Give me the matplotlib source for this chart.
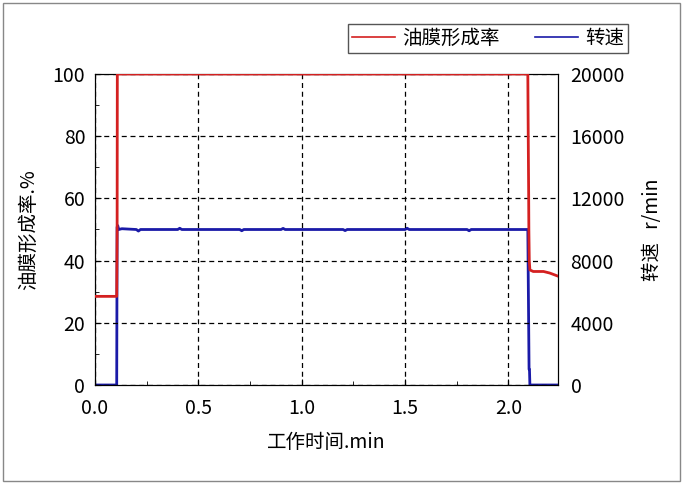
import numpy as np
import matplotlib.pyplot as plt
from matplotlib.patches import Rectangle
from matplotlib.lines import Line2D
from matplotlib.ticker import MultipleLocator

plt.rcParams['font.family'] = ['Noto Sans CJK SC', 'DejaVu Sans']

# 油膜形成率 (%)
t_film = [0.0, 0.105, 0.107, 0.108, 2.094, 2.096, 2.098, 2.099, 2.101, 2.104,
          2.12, 2.17, 2.20, 2.22, 2.24]
film = [28.5, 28.5, 50, 100, 100, 80, 62, 50, 40, 37, 36.5, 36.5, 36, 35.5, 35]

# 转速 (r/min)
t_speed = [0.0, 0.105, 0.107, 0.11, 0.115, 0.13, 0.2, 0.21, 0.22, 0.4, 0.41,
           0.42, 0.7, 0.71, 0.72, 0.9, 0.91, 0.92, 1.2, 1.21, 1.22, 1.5,
           1.51, 1.52, 1.8, 1.81, 1.82, 2.094, 2.096, 2.10, 2.102, 2.104, 2.24]
speed = [0, 0, 10150, 10250, 10000, 10050, 10000, 9900, 10000, 10000, 10080,
         10000, 10000, 9920, 10000, 10000, 10070, 10000, 10000, 9930, 10000,
         10000, 10080, 10000, 10000, 9920, 10000, 10000, 7000, 1000, 1000, 0, 0]

fig = plt.figure(figsize=(6.83, 4.84), dpi=100)
ax = fig.add_axes([95 / 683, 1 - 385 / 484, 463 / 683, 311 / 484])
ax2 = ax.twinx()

ax.plot(t_film, film, color='#d42020', lw=2, zorder=3)
ax2.plot(t_speed, speed, color='#1a1aa8', lw=2)

ax.set_xlim(0, 2.24)
ax.set_ylim(0, 100)
ax2.set_ylim(0, 20000)
ax.xaxis.set_major_locator(MultipleLocator(0.5))
ax.xaxis.set_minor_locator(MultipleLocator(0.25))
ax.yaxis.set_major_locator(MultipleLocator(20))
ax.yaxis.set_minor_locator(MultipleLocator(10))
ax2.yaxis.set_major_locator(MultipleLocator(4000))
ax.xaxis.set_major_formatter(plt.FormatStrFormatter('%.1f'))

ax.grid(True, which='major', color='black', linestyle=(0, (4, 3)), lw=0.9)
ax.tick_params(which='both', direction='in', labelsize=14, top=False)
ax.tick_params(axis='x', pad=9)
ax.tick_params(axis='y', pad=7)
ax.tick_params(which='major', length=4)
ax.tick_params(which='minor', length=3)
ax2.tick_params(direction='in', labelsize=14, length=0, pad=9)

ax.set_xlabel('工作时间.min', fontsize=14, labelpad=10)
ax.set_ylabel('油膜形成率.%', fontsize=14, labelpad=10)
ax2.set_ylabel('转速   r/min', fontsize=14, labelpad=12)

ax.set_zorder(ax2.get_zorder() + 1)
ax.patch.set_visible(False)

# legend above the axes
handles = [Line2D([], [], color='#d42020', lw=1.2),
           Line2D([], [], color='#1a1aa8', lw=1.2)]
leg = fig.legend(handles, ['油膜形成率', '转速'], ncol=2, fontsize=14,
                 loc='upper right', bbox_to_anchor=(638 / 683, 1 - 14 / 484),
                 fancybox=False, edgecolor='#555555', framealpha=1,
                 handlelength=2.2, handletextpad=0.4, columnspacing=1.8,
                 borderpad=0.2)
leg.get_frame().set_linewidth(1.0)

fig.patches.append(Rectangle((3 / 683, 3 / 484), 677 / 683, 478 / 484,
                             transform=fig.transFigure, fill=False,
                             edgecolor='#888888', lw=1.0))

fig.savefig('out.png', dpi=100)
